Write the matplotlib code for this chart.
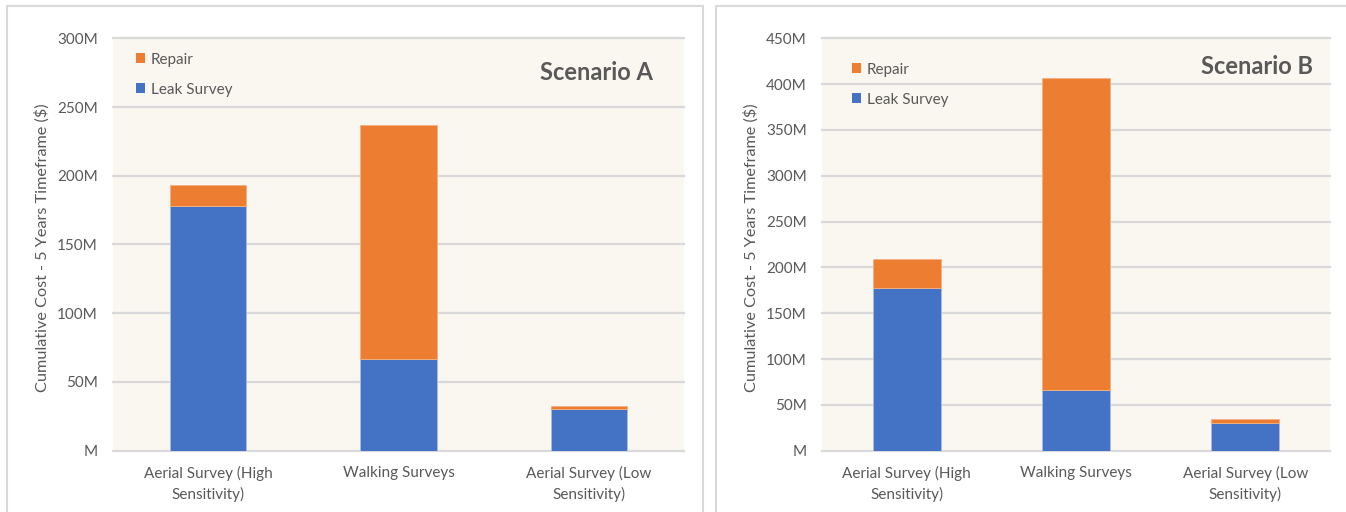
import matplotlib
matplotlib.use("Agg")
import matplotlib.pyplot as plt
from matplotlib.patches import Rectangle, Patch
from matplotlib.ticker import FuncFormatter, MultipleLocator

plt.rcParams['font.family'] = ['Lato', 'DejaVu Sans']

# Cumulative cost over a 5-year timeframe, millions of dollars
categories = ["Aerial Survey (High\nSensitivity)", "Walking Surveys", "Aerial Survey (Low\nSensitivity)"]
scenario_a_leak = [178, 66.5, 30.5]
scenario_a_repair = [15.3, 170.5, 1.8]
scenario_b_leak = [178, 66.5, 30.5]
scenario_b_repair = [31, 339.8, 4]
scenario_titles = ["Scenario A", "Scenario B"]
y_limits = [300, 450]
series_names = ["Leak Survey", "Repair"]

BLUE = "#4472C4"
ORANGE = "#ED7D31"
GRID = "#D9D9D9"
TEXT = "#595959"
PLOT_BG = "#FAF6F0"

W, H = 1346, 512
fig = plt.figure(figsize=(W / 100, H / 100), dpi=100)
fig.patch.set_facecolor("white")


def px_rect(x0, y0, x1, y1):
    """Convert a pixel box (top-left origin) to figure fraction [l, b, w, h]."""
    return [x0 / W, 1 - y1 / H, (x1 - x0) / W, (y1 - y0) / H]


# panel frames
for x0, x1 in [(7, 703), (716, 1360)]:
    fig.patches.append(Rectangle((x0 / W, -0.05), (x1 - x0) / W, 1 - 6 / H + 0.05,
                                 transform=fig.transFigure, fill=False,
                                 edgecolor=GRID, lw=1.5))

axes_boxes = [px_rect(113, 38.3, 684, 450.7), px_rect(822, 38.3, 1330, 450.7)]
leak_sets = [scenario_a_leak, scenario_b_leak]
repair_sets = [scenario_a_repair, scenario_b_repair]
legend_anchor = [(140 - 113 - 4, 39), (856 - 822 - 4, 49)]
title_pos = [(653, 73), (1313, 66)]
ylabel_x = [42, 751.5]

for i in range(2):
    ax = fig.add_axes(axes_boxes[i])
    ax.set_facecolor(PLOT_BG)
    x = list(range(len(categories)))
    ymax = y_limits[i]
    ax.set_xlim(-0.5, len(categories) - 0.5)
    ax.set_ylim(0, ymax)
    ax.yaxis.set_major_locator(MultipleLocator(50))
    for t in range(0, ymax + 1, 50):
        ax.axhline(t, color=GRID, lw=1.6, zorder=1, clip_on=False)
    ax.bar(x, leak_sets[i], width=0.4, color=BLUE, edgecolor="#A9BDE6",
           lw=0.6, zorder=3)
    ax.bar(x, repair_sets[i], width=0.4, bottom=leak_sets[i], color=ORANGE,
           edgecolor="#F4B183", lw=0.6, zorder=3)
    for s in ax.spines.values():
        s.set_visible(False)
    ax.yaxis.set_major_formatter(FuncFormatter(lambda v, p: "M" if v == 0 else f"{int(v)}M"))
    ax.set_xticks(x)
    ax.set_xticklabels(categories, linespacing=1.45)
    ax.tick_params(axis="both", length=0, colors=TEXT, labelsize=11)
    ax.tick_params(axis="x", pad=11)
    ax.tick_params(axis="y", pad=11)
    for lbl in ax.get_yticklabels():
        lbl.set_color(TEXT)

    fig.text(ylabel_x[i] / W, 1 - 248 / H, "Cumulative Cost - 5 Years Timeframe ($)",
             rotation=90, ha="center", va="center", color=TEXT, fontsize=11.7)

    handles = [Patch(facecolor=ORANGE, label=series_names[1]),
               Patch(facecolor=BLUE, label=series_names[0])]
    bx = axes_boxes[i]
    ax_w_px = bx[2] * W
    ax_h_px = bx[3] * H
    ax.legend(handles=handles, loc="upper left",
              bbox_to_anchor=(legend_anchor[i][0] / ax_w_px, 1 - legend_anchor[i][1] / ax_h_px + 0.06),
              frameon=False, fontsize=11, labelcolor=TEXT, handlelength=0.6,
              handleheight=0.6, handletextpad=0.35, labelspacing=1.05,
              borderpad=0, borderaxespad=0)

    fig.text(title_pos[i][0] / W, 1 - title_pos[i][1] / H, scenario_titles[i],
             ha="right", va="center", fontsize=17, fontweight="bold", color=TEXT)

fig.savefig("out.png", dpi=100, facecolor="white")
